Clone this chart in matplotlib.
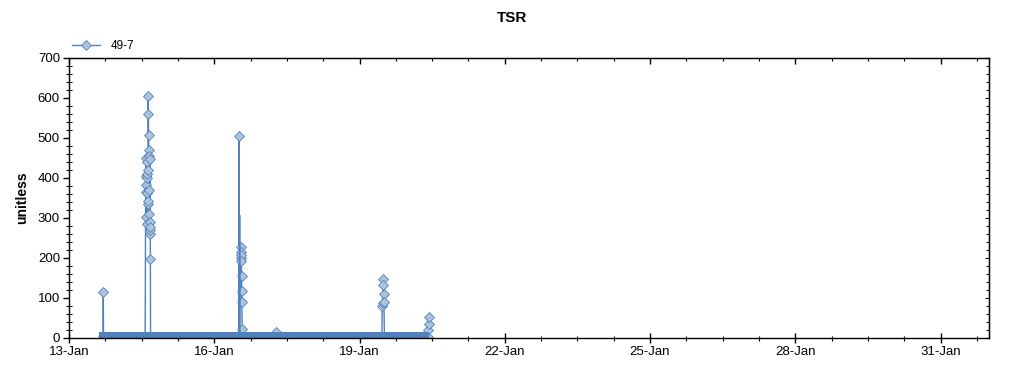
import numpy as np
import pandas as pd
import matplotlib
matplotlib.use("Agg")
import matplotlib.pyplot as plt
import matplotlib.dates as mdates

plt.rcParams['font.family'] = ['Liberation Sans', 'DejaVu Sans']

# ---- data ----
series_name = "49-7"

# low-level noise band that runs under the whole record
base_start = "2014-01-13 15:00"
base_end = "2014-01-20 10:35"
base_low = 0
base_high = 14

# excursions above the band (time, value); last point of each returns to the band
spike_a_t = ["2014-01-13 16:55", "2014-01-13 17:00", "2014-01-13 17:05"]
spike_a_v = [6, 116, 6]

spike_b_t = ["2014-01-14 13:45", "2014-01-14 14:00", "2014-01-14 14:05", "2014-01-14 14:10",
             "2014-01-14 14:15", "2014-01-14 14:20", "2014-01-14 14:25", "2014-01-14 14:30",
             "2014-01-14 14:40", "2014-01-14 14:45", "2014-01-14 14:50", "2014-01-14 14:55",
             "2014-01-14 15:00", "2014-01-14 15:05", "2014-01-14 15:15", "2014-01-14 15:20",
             "2014-01-14 15:25", "2014-01-14 15:35", "2014-01-14 15:40", "2014-01-14 15:45",
             "2014-01-14 15:50", "2014-01-14 15:55", "2014-01-14 16:00", "2014-01-14 16:05",
             "2014-01-14 16:10", "2014-01-14 16:15", "2014-01-14 16:20", "2014-01-14 16:25"]
spike_b_v = [3, 382, 366, 449, 303, 406, 362, 399,
             439, 409, 284, 334, 343, 420, 606, 561,
             508, 469, 371, 456, 311, 260, 291, 448,
             270, 278, 198, 6]

spike_c_t = ["2014-01-16 12:10", "2014-01-16 12:15", "2014-01-16 12:25", "2014-01-16 13:05",
             "2014-01-16 13:10", "2014-01-16 13:15", "2014-01-16 13:20", "2014-01-16 13:25",
             "2014-01-16 13:30", "2014-01-16 13:35", "2014-01-16 13:40", "2014-01-16 13:50",
             "2014-01-16 13:55"]
spike_c_v = [3, 504, 6, 227, 214, 199, 207, 193, 156, 118, 91, 22, 6]

# thin line without markers next to the 16-Jan spike
unmarked_t = ["2014-01-16 12:30", "2014-01-16 12:35", "2014-01-16 12:40"]
unmarked_v = [6, 307, 6]

spike_d_t = ["2014-01-17 06:40", "2014-01-17 06:45", "2014-01-17 06:50"]
spike_d_v = [4, 15, 6]

spike_e_t = ["2014-01-19 11:05", "2014-01-19 11:15", "2014-01-19 11:25", "2014-01-19 11:35",
             "2014-01-19 11:45", "2014-01-19 11:55", "2014-01-19 12:05", "2014-01-19 12:20"]
spike_e_v = [3, 80, 87, 147, 132, 110, 91, 6]

spike_f_t = ["2014-01-20 10:05", "2014-01-20 10:10", "2014-01-20 10:15", "2014-01-20 10:20",
             "2014-01-20 10:25"]
spike_f_v = [2, 20, 35, 52, 6]

x_start = "2014-01-13"
x_end = "2014-02-01"
y_max = 700

line_color = '#4f81bd'
marker_face = '#adc3da'

fig = plt.figure(figsize=(10.24, 3.75), dpi=100)
ax = fig.add_axes([69 / 1024, 1 - 338 / 375, 920 / 1024, 280 / 375])

# noise band (drawn over the foot of the spikes)
band_t = pd.to_datetime([base_start, base_end])
ax.fill_between(band_t, base_low, base_high, color=line_color, lw=0, zorder=4)

spikes = [(spike_a_t, spike_a_v), (spike_b_t, spike_b_v), (spike_c_t, spike_c_v),
          (spike_d_t, spike_d_v), (spike_e_t, spike_e_v), (spike_f_t, spike_f_v)]
for t, v in spikes:
    ax.plot(pd.to_datetime(t), v, '-', color=line_color, lw=1.0, zorder=3,
            marker='D', ms=4.8, mfc=marker_face, mec=line_color, mew=0.6,
            markevery=slice(0, len(v) - 1))
ax.plot(pd.to_datetime(unmarked_t), unmarked_v, '-', color=line_color, lw=1.0, zorder=3)

# axes limits and ticks
ax.set_xlim(pd.Timestamp(x_start), pd.Timestamp(x_end))
ax.set_ylim(0, y_max)
ax.set_xticks(pd.date_range(x_start, "2014-01-31", freq='3D'))
ax.set_xticks(pd.date_range(x_start, x_end, freq='18h'), minor=True)
ax.xaxis.set_major_formatter(mdates.DateFormatter('%d-%b'))
ax.set_yticks(np.arange(0, y_max + 1, 100))
ax.set_yticks(np.arange(0, y_max + 1, 20), minor=True)

ax.tick_params(axis='x', which='major', direction='inout', length=7, width=1, labelsize=9.5, pad=2)
ax.tick_params(axis='x', which='minor', direction='inout', length=3.6, width=0.8)
ax.tick_params(axis='y', which='major', direction='out', length=4.5, width=1, labelsize=9.5, pad=2)
ax.tick_params(axis='y', which='minor', direction='inout', length=4.5, width=0.8)
for s in ax.spines.values():
    s.set_linewidth(1)
    s.set_zorder(5)

top = ax.secondary_xaxis('top')
top.set_xticks(pd.date_range(x_start, "2014-01-31", freq='3D'))
top.set_xticks(pd.date_range(x_start, x_end, freq='18h'), minor=True)
top.tick_params(which='major', direction='in', length=4, width=1, labeltop=False)
top.tick_params(which='minor', direction='in', length=2, width=0.8)

right = ax.secondary_yaxis('right')
right.set_yticks(np.arange(0, y_max + 1, 100))
right.set_yticks(np.arange(0, y_max + 1, 20), minor=True)
right.tick_params(which='major', direction='in', length=3, width=0.8, labelright=False)
right.tick_params(which='minor', direction='in', length=2.5, width=0.8)

ax.set_ylabel("unitless", fontsize=10, fontweight='bold', labelpad=6)
fig.text(0.5, 1 - 18 / 375, "TSR", ha='center', va='center', fontsize=11, fontweight='bold')

# legend
ax.plot([], [], '-', color=line_color, lw=1.0, marker='D', ms=4.8,
        mfc=marker_face, mec=line_color, mew=0.6, label=series_name)
ax.legend(loc='lower left', bbox_to_anchor=(72 / 1024, 1 - 52 / 375),
          bbox_transform=fig.transFigure, frameon=False, fontsize=8.5,
          handlelength=2.4, handletextpad=0.9, borderpad=0, borderaxespad=0)

fig.savefig("out.png", dpi=100)
